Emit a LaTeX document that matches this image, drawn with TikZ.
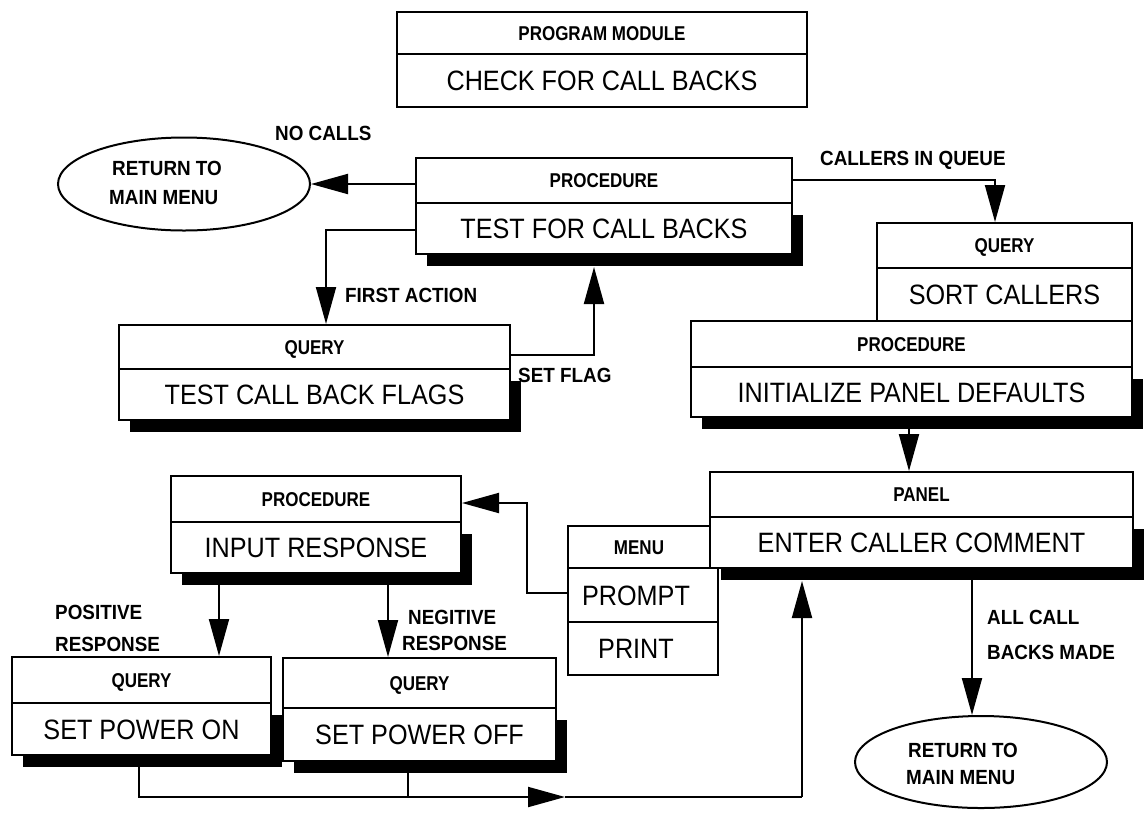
\documentclass[tikz,border=0pt]{standalone}
\usepackage{fontspec}
\setmainfont{Liberation Sans}
\newfontfamily\hdrfont{Liberation Sans}[FakeStretch=0.85]
\newfontfamily\lblfont{Liberation Sans}[FakeStretch=0.92]
\newfontfamily\bodyfont{Liberation Sans}[FakeStretch=0.9]
\usetikzlibrary{arrows.meta,fit,shapes.geometric,calc}
\tikzset{
 bx/.style={draw, fill=white, line width=2pt, inner sep=0pt},
 hdr/.style={font=\hdrfont\bfseries\fontsize{20}{22}\selectfont, inner sep=0pt, text height=14.3pt, text depth=0pt},
 bdy/.style={font=\bodyfont\fontsize{28}{30}\selectfont, inner sep=0pt, text height=20pt, text depth=0pt},
 lbl/.style={font=\lblfont\bfseries\fontsize{20.5}{22}\selectfont, inner sep=0pt, text height=14.7pt, text depth=0pt, anchor=west},
 shd/.style={fill=black},
 arr/.style={line width=2pt, -{Triangle[length=37pt,width=20pt]}},
 ln/.style={line width=2pt},
 oval/.style={draw, ellipse, line width=2pt, inner sep=0pt, fill=white},
}
% name, x1, y1, ydiv, x2, y2, header, body, shadow
\newcommand\twobox[9]{%
 \ifnum#9=1 \fill[shd] ({#2+11},{#4+12}) rectangle ({#5+11},{#6+12});\fi
 \node[bx, fit={(#2,#3) (#5,#6)}] (#1) {};
 \draw[ln] (#2,#4) -- (#5,#4);
 \node[hdr] (#1h) at ({(#2+#5)/2},{(#3+#4)/2}) {#7};
 \node[bdy] (#1b) at ({(#2+#5)/2},{(#4+#6)/2}) {#8};
}
\begin{document}
\begin{tikzpicture}[x=1pt,y=-1pt]
\useasboundingbox (0,0) rectangle (1147,812);
% boxes
\twobox{pm}{397}{12}{54}{807}{107}{PROGRAM MODULE}{CHECK FOR CALL BACKS}{0}
\twobox{tfc}{416}{158}{203}{792}{254}{PROCEDURE}{TEST FOR CALL BACKS}{1}
\twobox{flags}{119}{325}{369}{510}{420}{QUERY}{TEST CALL BACK FLAGS}{1}
\fill[shd] (702,379) rectangle (1143,429);
\twobox{sort}{877}{223}{268}{1132}{321}{QUERY}{SORT CALLERS}{0}
\twobox{init}{691}{321}{367}{1132}{417}{PROCEDURE}{INITIALIZE PANEL DEFAULTS}{0}
\twobox{panel}{710}{472}{517}{1133}{568}{PANEL}{ENTER CALLER COMMENT}{1}
\twobox{inp}{171}{476}{522}{461}{573}{PROCEDURE}{INPUT RESPONSE}{1}
\twobox{on}{12}{657}{703}{271}{755}{QUERY}{SET POWER ON}{1}
\twobox{off}{283}{658}{708}{556}{761}{QUERY}{SET POWER OFF}{1}
% menu
\node[bx, fit={(568,526) (710,568)}] (menu) {};
\node[hdr] (menut) at (639,547) {MENU};
\node[bx, fit={(568,568) (718,622)}] (prompt) {};
\node[bdy] (promptt) at (636,595) {PROMPT};
\node[bx, fit={(568,622) (718,675)}] (print) {};
\node[bdy] (printt) at (636,648) {PRINT};
% ovals
\node[oval, minimum width=252pt, minimum height=93pt] (ret1) at (184,184) {};
\node[lbl] (ret1a) at (112,168) {RETURN TO};
\node[lbl] (ret1b) at (109,197) {MAIN MENU};
\node[oval, minimum width=252pt, minimum height=92pt] (ret2) at (981,762) {};
\node[lbl] (ret2a) at (908,750) {RETURN TO};
\node[lbl] (ret2b) at (906,777) {MAIN MENU};
% labels
\node[lbl] (l1) at (275,133) {NO CALLS};
\node[lbl] (l2) at (345,295) {FIRST ACTION};
\node[lbl] (l3) at (518,375) {SET FLAG};
\node[lbl] (l4) at (820,158) {CALLERS IN QUEUE};
\node[lbl] (l5a) at (55,612) {POSITIVE};
\node[lbl] (l5b) at (55,644) {RESPONSE};
\node[lbl] (l6a) at (408,617) {NEGITIVE};
\node[lbl] (l6b) at (402,643) {RESPONSE};
\node[lbl] (l7a) at (987,617) {ALL CALL};
\node[lbl] (l7b) at (987,652) {BACKS MADE};
% connectors
\draw[arr] (tfc.west |- ret1.east) -- (ret1.east);
\coordinate (c2) at (326,230);
\draw[arr] (tfc.west |- c2) -- (c2) -- (c2 |- flags.north);
\coordinate (c3) at (594,355);
\coordinate (tfcs) at ($(tfc.south)+(0,12)$);
\draw[arr] (flags.east |- c3) -- (c3) -- (c3 |- tfcs);
\coordinate (c4) at (995,180);
\draw[arr] (tfc.east |- c4) -- (c4) -- (c4 |- sort.north);
\coordinate (c5) at (909,429);
\draw[arr] (c5) -- (c5 |- panel.north);
\coordinate (c6a) at (527,593);
\coordinate (c6b) at (527,503);
\draw[arr] (prompt.west |- c6a) -- (c6a) -- (c6b) -- (c6b -| inp.east);
\coordinate (c7) at (219,585);
\draw[arr] (c7) -- (c7 |- on.north);
\coordinate (c8) at (388,585);
\draw[arr] (c8) -- (c8 |- off.north);
\coordinate (c9) at (139,767);
\coordinate (c9b) at (139,797);
\coordinate (c9m) at (565,797);
\coordinate (c9c) at (802,797);
\coordinate (psb) at ($(panel.south)+(0,12)$);
\draw[arr] (c9) -- (c9b) -- (c9m);
\draw[ln] (c9m) -- (c9c);
\draw[arr] (c9c) -- (c9c |- psb);
\coordinate (c10) at (408,773);
\draw[ln] (c10) -- (c10 |- c9b);
\coordinate (c11) at (972,580);
\draw[arr] (c11) -- (c11 |- ret2.north);
\end{tikzpicture}
\end{document}
